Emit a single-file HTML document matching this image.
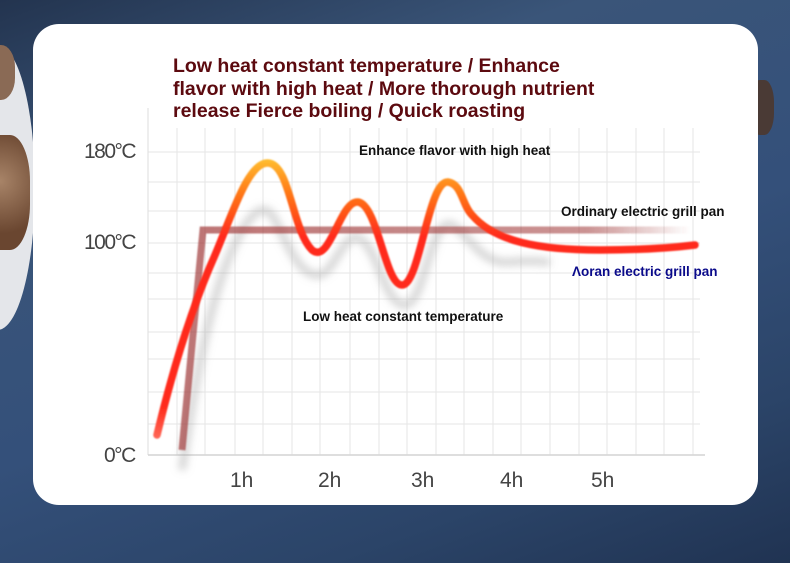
<!DOCTYPE html>
<html><head><meta charset="utf-8"><style>
html,body{margin:0;padding:0;}
body{width:790px;height:563px;overflow:hidden;position:relative;background:linear-gradient(160deg,#23344f 0%,#3a5579 25%,#34507a 55%,#2b4468 80%,#203352 100%);font-family:"Liberation Sans",sans-serif;}
.card{position:absolute;left:33px;top:24px;width:725px;height:481px;background:#fff;border-radius:26px;}
.t{position:absolute;font-family:"Liberation Sans",sans-serif;white-space:nowrap;}
</style></head><body>
<div style="position:absolute;left:-40px;top:45px;width:75px;height:285px;border-radius:50%;background:#e4e6ea;"></div>
<div style="position:absolute;left:-20px;top:135px;width:50px;height:115px;border-radius:40%;background:radial-gradient(circle at 40% 40%,#a88468,#6a4630 70%);"></div>
<div style="position:absolute;left:-20px;top:45px;width:35px;height:55px;border-radius:40%;background:#8a6a55;"></div>
<div style="position:absolute;left:750px;top:80px;width:24px;height:55px;border-radius:40%;background:#4a3a35;"></div>
<div class="card"></div>
<svg style="position:absolute;left:0;top:0" width="790" height="563">
<defs>
<linearGradient id="rg" gradientUnits="userSpaceOnUse" x1="0" y1="440" x2="0" y2="158">
<stop offset="0" stop-color="#ff6a5a"/><stop offset="0.12" stop-color="#ff2a1a"/><stop offset="0.72" stop-color="#ff2a1a"/><stop offset="0.88" stop-color="#ff7a18"/><stop offset="1" stop-color="#ffc030"/></linearGradient>
<linearGradient id="fade" x1="0" x2="1"><stop offset="0" stop-color="#a03a3a" stop-opacity="0.7"/><stop offset="0.8" stop-color="#a03a3a" stop-opacity="0.55"/><stop offset="1" stop-color="#a03a3a" stop-opacity="0"/></linearGradient>
<filter id="bl" x="-20%" y="-20%" width="140%" height="140%"><feGaussianBlur stdDeviation="4"/></filter>
<filter id="bl2"><feGaussianBlur stdDeviation="0.8"/></filter>
</defs>
<g stroke="#e6e6e6" stroke-width="1">
<line x1="148" y1="152" x2="700" y2="152"/><line x1="148" y1="182" x2="700" y2="182"/><line x1="148" y1="211" x2="700" y2="211"/><line x1="148" y1="243" x2="700" y2="243"/><line x1="148" y1="273" x2="700" y2="273"/><line x1="148" y1="299" x2="700" y2="299"/><line x1="148" y1="332" x2="700" y2="332"/><line x1="148" y1="359" x2="700" y2="359"/><line x1="148" y1="392" x2="700" y2="392"/><line x1="148" y1="424" x2="700" y2="424"/>
<line x1="177" y1="128" x2="177" y2="455"/><line x1="205" y1="128" x2="205" y2="455"/><line x1="235" y1="128" x2="235" y2="455"/><line x1="263" y1="128" x2="263" y2="455"/><line x1="292" y1="128" x2="292" y2="455"/><line x1="320" y1="128" x2="320" y2="455"/><line x1="350" y1="128" x2="350" y2="455"/><line x1="379" y1="128" x2="379" y2="455"/><line x1="407" y1="128" x2="407" y2="455"/><line x1="436" y1="128" x2="436" y2="455"/><line x1="464" y1="128" x2="464" y2="455"/><line x1="493" y1="128" x2="493" y2="455"/><line x1="521" y1="128" x2="521" y2="455"/><line x1="550" y1="128" x2="550" y2="455"/><line x1="579" y1="128" x2="579" y2="455"/><line x1="607" y1="128" x2="607" y2="455"/><line x1="636" y1="128" x2="636" y2="455"/><line x1="664" y1="128" x2="664" y2="455"/><line x1="693" y1="128" x2="693" y2="455"/>
</g>
<line x1="148" y1="108" x2="148" y2="455" stroke="#ddd"/>
<line x1="148" y1="455" x2="705" y2="455" stroke="#d4d4d4" stroke-width="1.5"/>
<path d="M182,470 C195,380 210,300 232,250 C250,210 265,200 275,220 C290,250 300,275 318,275 C335,275 345,225 362,240 C380,255 385,305 405,305 C425,305 430,215 452,225 C470,235 480,265 510,262 C530,260 545,262 550,262" fill="none" stroke="#999" stroke-opacity="0.4" stroke-width="8" filter="url(#bl)"/>
<path d="M182,450 L203,230 L690,230" fill="none" stroke="url(#fade)" stroke-width="7" filter="url(#bl2)"/>
<path d="M157,435 C175,360 195,300 215,255 C232,215 248,162 268,163 C290,164 292,230 312,250 C330,265 340,200 358,202 C378,205 385,285 402,285 C420,285 428,180 448,182 C462,184 462,205 472,215 C495,242 540,250 600,250 C640,250 670,248 695,245" fill="none" stroke="url(#rg)" stroke-width="7.5" stroke-linecap="round" filter="url(#bl2)"/>
</svg>
<div class="t" style="left:173px;top:55px;font-size:19.5px;font-weight:bold;color:#5c0a0f;line-height:22.5px;">Low heat constant temperature / Enhance<br>flavor with high heat / More thorough nutrient<br>release Fierce boiling / Quick roasting</div>
<div class="t" style="left:84px;top:140px;font-size:21px;color:#444;letter-spacing:-1.5px;">180°C</div>
<div class="t" style="left:84px;top:231px;font-size:21px;color:#444;letter-spacing:-1.5px;">100°C</div>
<div class="t" style="left:104px;top:444px;font-size:21px;color:#444;letter-spacing:-1.5px;">0°C</div>
<div class="t" style="left:230px;top:469px;font-size:21px;color:#444;">1h</div>
<div class="t" style="left:318px;top:469px;font-size:21px;color:#444;">2h</div>
<div class="t" style="left:411px;top:469px;font-size:21px;color:#444;">3h</div>
<div class="t" style="left:500px;top:469px;font-size:21px;color:#444;">4h</div>
<div class="t" style="left:591px;top:469px;font-size:21px;color:#444;">5h</div>
<div class="t" style="left:359px;top:143px;font-size:13.5px;font-weight:bold;color:#111;">Enhance flavor with high heat</div>
<div class="t" style="left:561px;top:204px;font-size:13.5px;font-weight:bold;color:#111;">Ordinary electric grill pan</div>
<div class="t" style="left:572px;top:264px;font-size:13.5px;font-weight:bold;color:#0a0a8a;">Λoran electric grill pan</div>
<div class="t" style="left:303px;top:309px;font-size:13.5px;font-weight:bold;color:#111;">Low heat constant temperature</div>
</body></html>
